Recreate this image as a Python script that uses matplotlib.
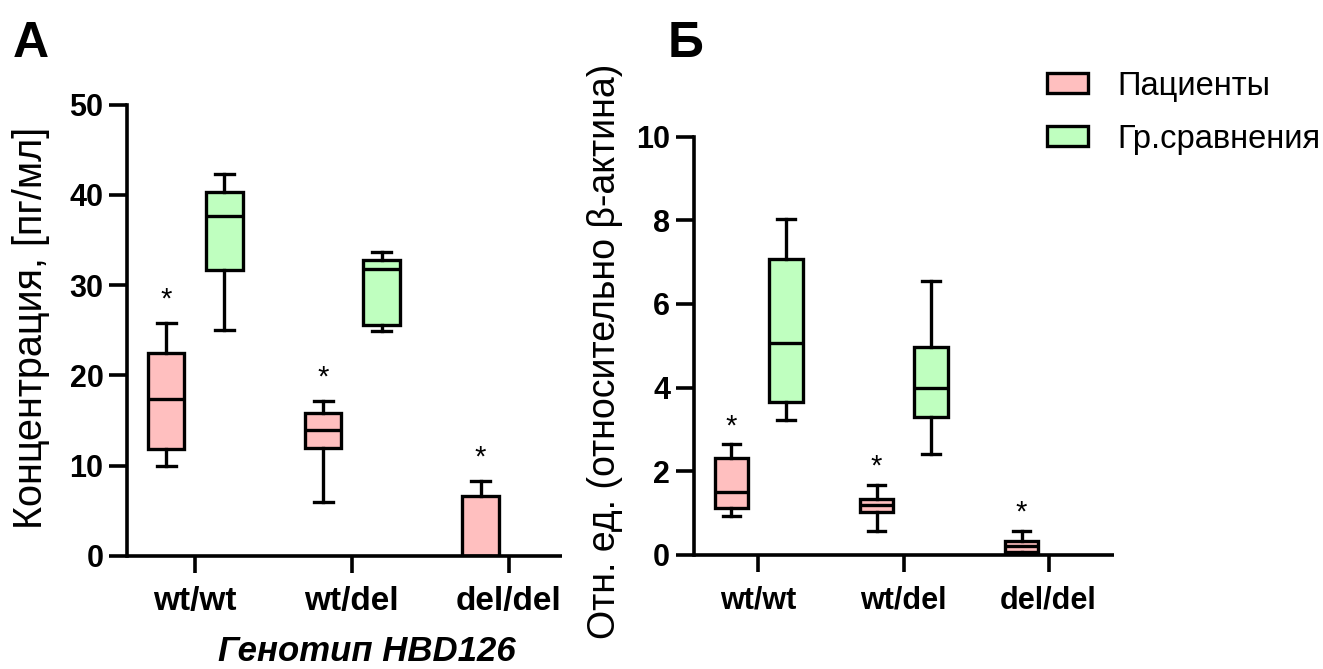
import matplotlib
matplotlib.use("Agg")
import matplotlib.pyplot as plt
from matplotlib.patches import Patch

plt.rcParams['font.family'] = ['Liberation Sans', 'DejaVu Sans']

genotypes = ["wt/wt", "wt/del", "del/del"]
groups = ["Пациенты", "Гр.сравнения"]
pink = "#ffbfbf"
green = "#bfffbf"

# boxes as (min, q1, median, q3, max)
a_patients = [(10.0, 11.8, 17.4, 22.5, 25.8),
              (6.0, 12.0, 14.0, 15.8, 17.2),
              (0.0, 0.0, 0.0, 6.6, 8.3)]
a_controls = [(25.0, 31.7, 37.7, 40.3, 42.3),
              (24.9, 25.6, 31.8, 32.8, 33.7)]
b_patients = [(0.92, 1.12, 1.49, 2.31, 2.64),
              (0.57, 1.02, 1.18, 1.33, 1.67),
              (0.0, 0.06, 0.21, 0.34, 0.57)]
b_controls = [(3.23, 3.66, 5.06, 7.07, 8.04),
              (2.40, 3.30, 3.99, 4.96, 6.55)]


def stats(boxes):
    out = []
    for mn, q1, med, q3, mx in boxes:
        out.append(dict(whislo=mn, q1=q1, med=med, q3=q3, whishi=mx, fliers=[]))
    return out


def draw_group(ax, boxes, pos, color):
    lw = 2.4
    ax.bxp(stats(boxes), positions=pos, widths=0.23, patch_artist=True,
           showfliers=False,
           boxprops=dict(facecolor=color, edgecolor="black", linewidth=lw),
           medianprops=dict(color="black", linewidth=lw),
           whiskerprops=dict(color="black", linewidth=lw),
           capprops=dict(color="black", linewidth=lw),
           capwidths=0.12, manage_ticks=False)


def style_axes(ax, ylim, yticks, xlim, yfs, xfs):
    ax.set_ylim(*ylim)
    ax.set_xlim(*xlim)
    ax.set_yticks(yticks)
    ax.set_xticks(range(len(genotypes)))
    ax.set_xticklabels(genotypes, fontweight="bold", fontsize=xfs)
    for lab in ax.get_yticklabels():
        lab.set_fontweight("bold")
        lab.set_fontsize(yfs)
    for s in ["top", "right"]:
        ax.spines[s].set_visible(False)
    for s in ["left", "bottom"]:
        ax.spines[s].set_linewidth(2.6)
    ax.tick_params(axis="y", length=13, width=2.6, pad=4)
    ax.tick_params(axis="x", length=12, width=2.6, pad=10)
    ax.spines["bottom"].set_capstyle("butt")


fig = plt.figure(figsize=(13.23, 6.69), dpi=100)

# panel A
axA = fig.add_axes([0.096, 0.169, 0.329, 0.6746])
draw_group(axA, a_patients, [i - 0.18 for i in range(3)], pink)
draw_group(axA, a_controls, [i + 0.19 for i in range(2)], green)
for i, b in enumerate(a_patients):
    axA.text(i - 0.18, b[4] + 1.0, "*", ha="center", va="bottom", fontsize=21)
style_axes(axA, (0, 50), range(0, 51, 10), (-0.43, 2.34), 22, 24)
axA.set_ylabel("Концентрация, [пг/мл]", fontsize=28.5)
axA.yaxis.set_label_coords(-0.177, 0.506)
axA.set_xlabel("Генотип HBD126", fontsize=25, fontweight="bold",
               fontstyle="italic")
axA.xaxis.set_label_coords(0.551, -0.176)

# panel B
axB = fig.add_axes([0.5244, 0.1708, 0.3175, 0.6247])
draw_group(axB, b_patients, [i - 0.186 for i in range(3)], pink)
draw_group(axB, b_controls, [i + 0.19 for i in range(2)], green)
for i, b in enumerate(b_patients):
    axB.text(i - 0.186, b[4] + 0.1, "*", ha="center", va="bottom", fontsize=21)
style_axes(axB, (0, 10), range(0, 11, 2), (-0.446, 2.45), 22, 22)
axB.set_ylabel("Отн. ед. (относительно β-актина)", fontsize=27)
axB.yaxis.set_label_coords(-0.1686, 0.486)

fig.text(0.010, 1 - 57 / 669, "А", fontsize=36, fontweight="bold", va="baseline")
fig.text(0.505, 1 - 57 / 669, "Б", fontsize=36, fontweight="bold", va="baseline")

handles = [Patch(facecolor=pink, edgecolor="black", linewidth=2.4),
           Patch(facecolor=green, edgecolor="black", linewidth=2.4)]
fig.legend(handles, groups, loc="upper left", bbox_to_anchor=(0.7914, 0.8945),
           frameon=False, fontsize=23.5, handlelength=1.26, handleheight=0.58,
           handletextpad=0.89, labelspacing=0.68, borderpad=0, borderaxespad=0)

fig.savefig("out.png", dpi=100)
